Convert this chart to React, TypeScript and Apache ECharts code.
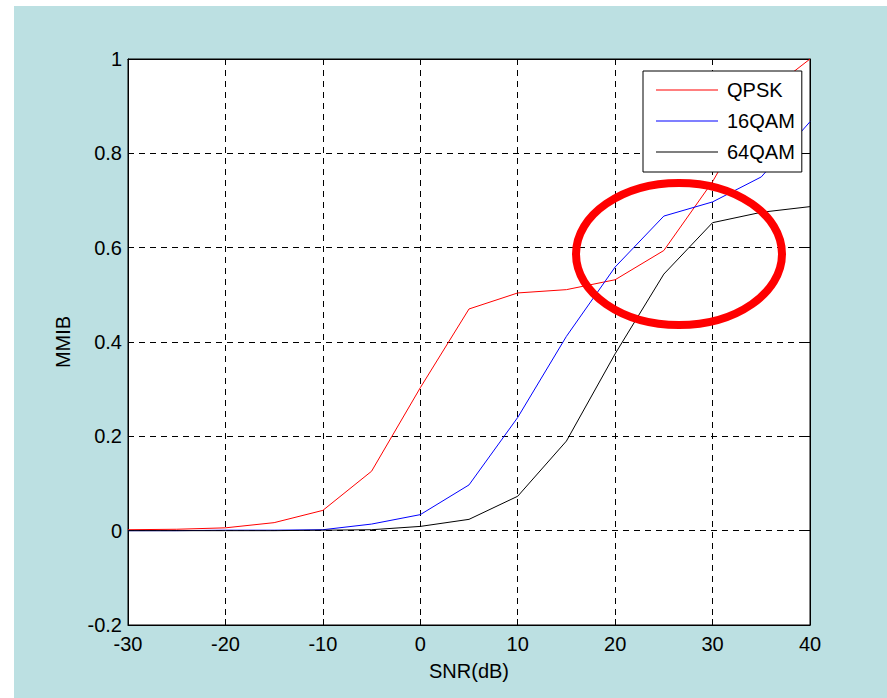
import React, { useEffect, useRef } from "react";
import * as echarts from "echarts";

const snr = [-30, -25, -20, -15, -10, -5, 0, 5, 10, 15, 20, 25, 30, 35, 40];
const qpsk = [0.002, 0.003, 0.006, 0.017, 0.043, 0.126, 0.303, 0.47, 0.504, 0.511, 0.532, 0.594, 0.74, 0.92, 1.0];
const qam16 = [0, 0, 0.001, 0.001, 0.002, 0.014, 0.034, 0.097, 0.24, 0.412, 0.559, 0.667, 0.697, 0.75, 0.867];
const qam64 = [0, 0, 0, 0, 0.001, 0.002, 0.009, 0.024, 0.073, 0.19, 0.375, 0.544, 0.653, 0.675, 0.687];
const seriesNames = ["QPSK", "16QAM", "64QAM"];
const seriesColors = ["#ff0000", "#0000ff", "#000000"];
const xTitle = "SNR(dB)";
const yTitle = "MMIB";

const FONT = "'Liberation Sans', Arial, sans-serif";
const FS = 20;

export default function App() {
  const ref = useRef<HTMLDivElement>(null);
  useEffect(() => {
    if (!ref.current) return;
    const chart = echarts.init(ref.current, undefined, { renderer: "svg" });
    const datasets = [qpsk, qam16, qam64];
    const tickStyle = { show: true, inside: true, length: 6, lineStyle: { color: "#000", width: 1 } };
    chart.setOption({
      animation: false,
      backgroundColor: "#bce0e2",
      grid: {
        left: 128,
        top: 59,
        width: 682,
        height: 566,
        show: true,
        backgroundColor: "#ffffff",
        borderColor: "#000",
        borderWidth: 1,
      },
      legend: {
        orient: "vertical",
        left: 643,
        top: 71,
        data: seriesNames,
        icon: "rect",
        itemWidth: 62,
        itemHeight: 1,
        itemGap: 11,
        padding: [9, 7, 10, 13],
        backgroundColor: "#ffffff",
        borderColor: "#000",
        borderWidth: 1,
        textStyle: { fontFamily: FONT, fontSize: FS, color: "#000", padding: [0, 0, 0, 4] },
      },
      xAxis: [
        {
          type: "value",
          min: -30,
          max: 40,
          interval: 10,
          name: xTitle,
          nameLocation: "middle",
          nameGap: 36,
          nameTextStyle: { fontFamily: FONT, fontSize: FS, color: "#000", verticalAlign: "top" },
          axisLine: { show: true, onZero: false, lineStyle: { color: "#000" } },
          axisTick: tickStyle,
          axisLabel: { fontFamily: FONT, fontSize: FS, color: "#000", margin: 9 },
          splitLine: { show: true, lineStyle: { color: "#000", type: [6, 5], width: 1 } },
        },
        {
          type: "value",
          position: "top",
          min: -30,
          max: 40,
          interval: 10,
          axisLine: { show: true, onZero: false, lineStyle: { color: "#000" } },
          axisTick: tickStyle,
          axisLabel: { show: false },
          splitLine: { show: false },
        },
      ],
      yAxis: [
        {
          type: "value",
          min: -0.2,
          max: 1,
          interval: 0.2,
          name: yTitle,
          nameLocation: "middle",
          nameRotate: 90,
          nameGap: 55,
          nameTextStyle: { fontFamily: FONT, fontSize: FS, color: "#000" },
          axisLine: { show: true, onZero: false, lineStyle: { color: "#000" } },
          axisTick: tickStyle,
          axisLabel: {
            fontFamily: FONT,
            fontSize: FS,
            color: "#000",
            margin: 6,
            formatter: (v: number) => String(Math.round(v * 10) / 10),
          },
          splitLine: { show: true, lineStyle: { color: "#000", type: [6, 5], width: 1 } },
        },
        {
          type: "value",
          position: "right",
          min: -0.2,
          max: 1,
          interval: 0.2,
          axisLine: { show: true, onZero: false, lineStyle: { color: "#000" } },
          axisTick: tickStyle,
          axisLabel: { show: false },
          splitLine: { show: false },
        },
      ],
      series: seriesNames.map((name, i) => ({
        name,
        type: "line",
        xAxisIndex: 0,
        yAxisIndex: 0,
        data: snr.map((x, j) => [x, datasets[i][j]]),
        symbol: "none",
        color: seriesColors[i],
        lineStyle: { color: seriesColors[i], width: 1 },
        z: 3,
      })),
      graphic: [
        { type: "rect", shape: { x: 0, y: 0, width: 14, height: 698 }, style: { fill: "#ffffff" }, silent: true },
        { type: "rect", shape: { x: 0, y: 0, width: 887, height: 6 }, style: { fill: "#ffffff" }, silent: true },
        {
          type: "ellipse",
          shape: { cx: 679, cy: 254, rx: 103, ry: 71 },
          style: { fill: "none", stroke: "#ff0000", lineWidth: 8 },
          z: 100,
          silent: true,
        },
      ],
    });
    return () => chart.dispose();
  }, []);
  return (
    <div
      ref={ref}
      style={{ position: "fixed", left: 0, top: 0, width: 887, height: 698 }}
    />
  );
}
